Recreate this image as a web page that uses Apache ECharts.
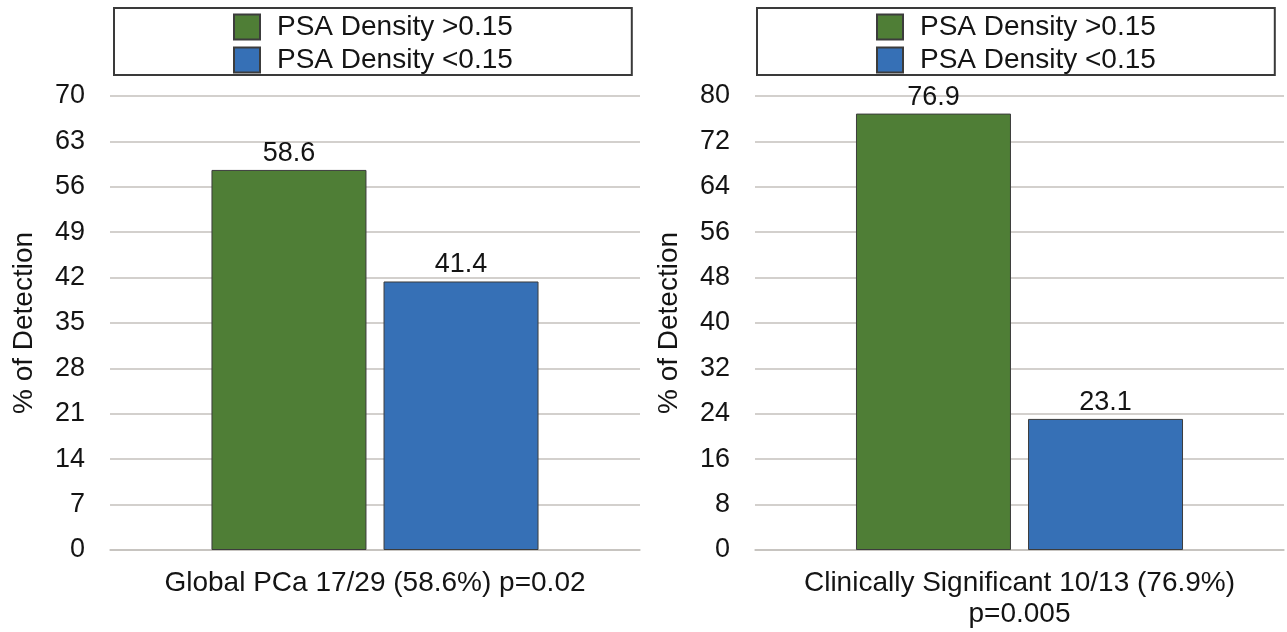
<!DOCTYPE html>
<html>
<head>
<meta charset="utf-8">
<script src="https://cdn.jsdelivr.net/npm/echarts@6/dist/echarts.min.js"></script>
<style>
html,body{margin:0;padding:0;background:#fff;}
#chart{width:1287px;height:632px;}
</style>
</head>
<body>
<div id="chart"></div>
<script>
// ---- data ----
const seriesNames = ['PSA Density >0.15', 'PSA Density <0.15'];
const categoriesLeft = ['Global PCa 17/29 (58.6%) p=0.02'];
const categoriesRight = ['Clinically Significant 10/13 (76.9%)\np=0.005'];
const leftHigh = [58.6];
const leftLow = [41.4];
const rightHigh = [76.9];
const rightLow = [23.1];
const leftAxis = { min: 0, max: 70, interval: 7 };
const rightAxis = { min: 0, max: 80, interval: 8 };
const yAxisTitle = '% of Detection';

// ---- style ----
const FONT = 'Liberation Sans, Arial, Helvetica, sans-serif';
const TXT = '#141414';
const GREEN = '#4f7e36';
const BLUE = '#3670b6';
const GRID = '#c4c0bc';

function legendFor(left) {
  return {
    left: left, top: 8, orient: 'vertical',
    data: seriesNames,
    icon: 'rect', itemWidth: 26, itemHeight: 25, itemGap: 5,
    padding: [5, 119, 1, 119],
    borderColor: '#3a3a3a', borderWidth: 2, backgroundColor: '#fff',
    textStyle: { fontFamily: FONT, fontSize: 28, color: TXT, lineHeight: 26, padding: [0, 0, 0, 12] },
    selectedMode: false
  };
}
function xAxisFor(idx, cats) {
  return {
    type: 'category', gridIndex: idx, data: cats,
    axisTick: { show: false },
    axisLine: { lineStyle: { color: GRID, width: 1.5 } },
    axisLabel: { fontFamily: FONT, fontSize: 28, color: TXT, margin: 18, lineHeight: 31 }
  };
}
function yAxisFor(idx, ax) {
  return {
    type: 'value', gridIndex: idx, min: ax.min, max: ax.max, interval: ax.interval,
    name: yAxisTitle, nameLocation: 'middle', nameRotate: 90, nameGap: 72,
    nameTextStyle: { fontFamily: FONT, fontSize: 28, color: TXT },
    axisLine: { show: false }, axisTick: { show: false },
    axisLabel: { fontFamily: FONT, fontSize: 27, color: TXT, margin: 25 },
    splitLine: { lineStyle: { color: GRID, width: 1.5 } }
  };
}
function barFor(name, idx, data, color) {
  return {
    name: name, type: 'bar', xAxisIndex: idx, yAxisIndex: idx, data: data,
    barWidth: 155, barGap: '11%',
    itemStyle: { color: color, borderColor: '#3c3c3c', borderWidth: 1 },
    label: { show: true, position: 'top', distance: 3, fontFamily: FONT, fontSize: 27, color: TXT },
    animation: false
  };
}

const chart = echarts.init(document.getElementById('chart'));
chart.setOption({
  animation: false,
  backgroundColor: '#fff',
  textStyle: { fontFamily: FONT },
  legend: [legendFor(114), legendFor(757)],
  grid: [
    { left: 110, right: 647, top: 96, bottom: 82, containLabel: false },
    { left: 755, right: 3, top: 96, bottom: 82, containLabel: false }
  ],
  xAxis: [xAxisFor(0, categoriesLeft), xAxisFor(1, categoriesRight)],
  yAxis: [yAxisFor(0, leftAxis), yAxisFor(1, rightAxis)],
  series: [
    barFor(seriesNames[0], 0, leftHigh, GREEN),
    barFor(seriesNames[1], 0, leftLow, BLUE),
    barFor(seriesNames[0], 1, rightHigh, GREEN),
    barFor(seriesNames[1], 1, rightLow, BLUE)
  ]
});
</script>
</body>
</html>
